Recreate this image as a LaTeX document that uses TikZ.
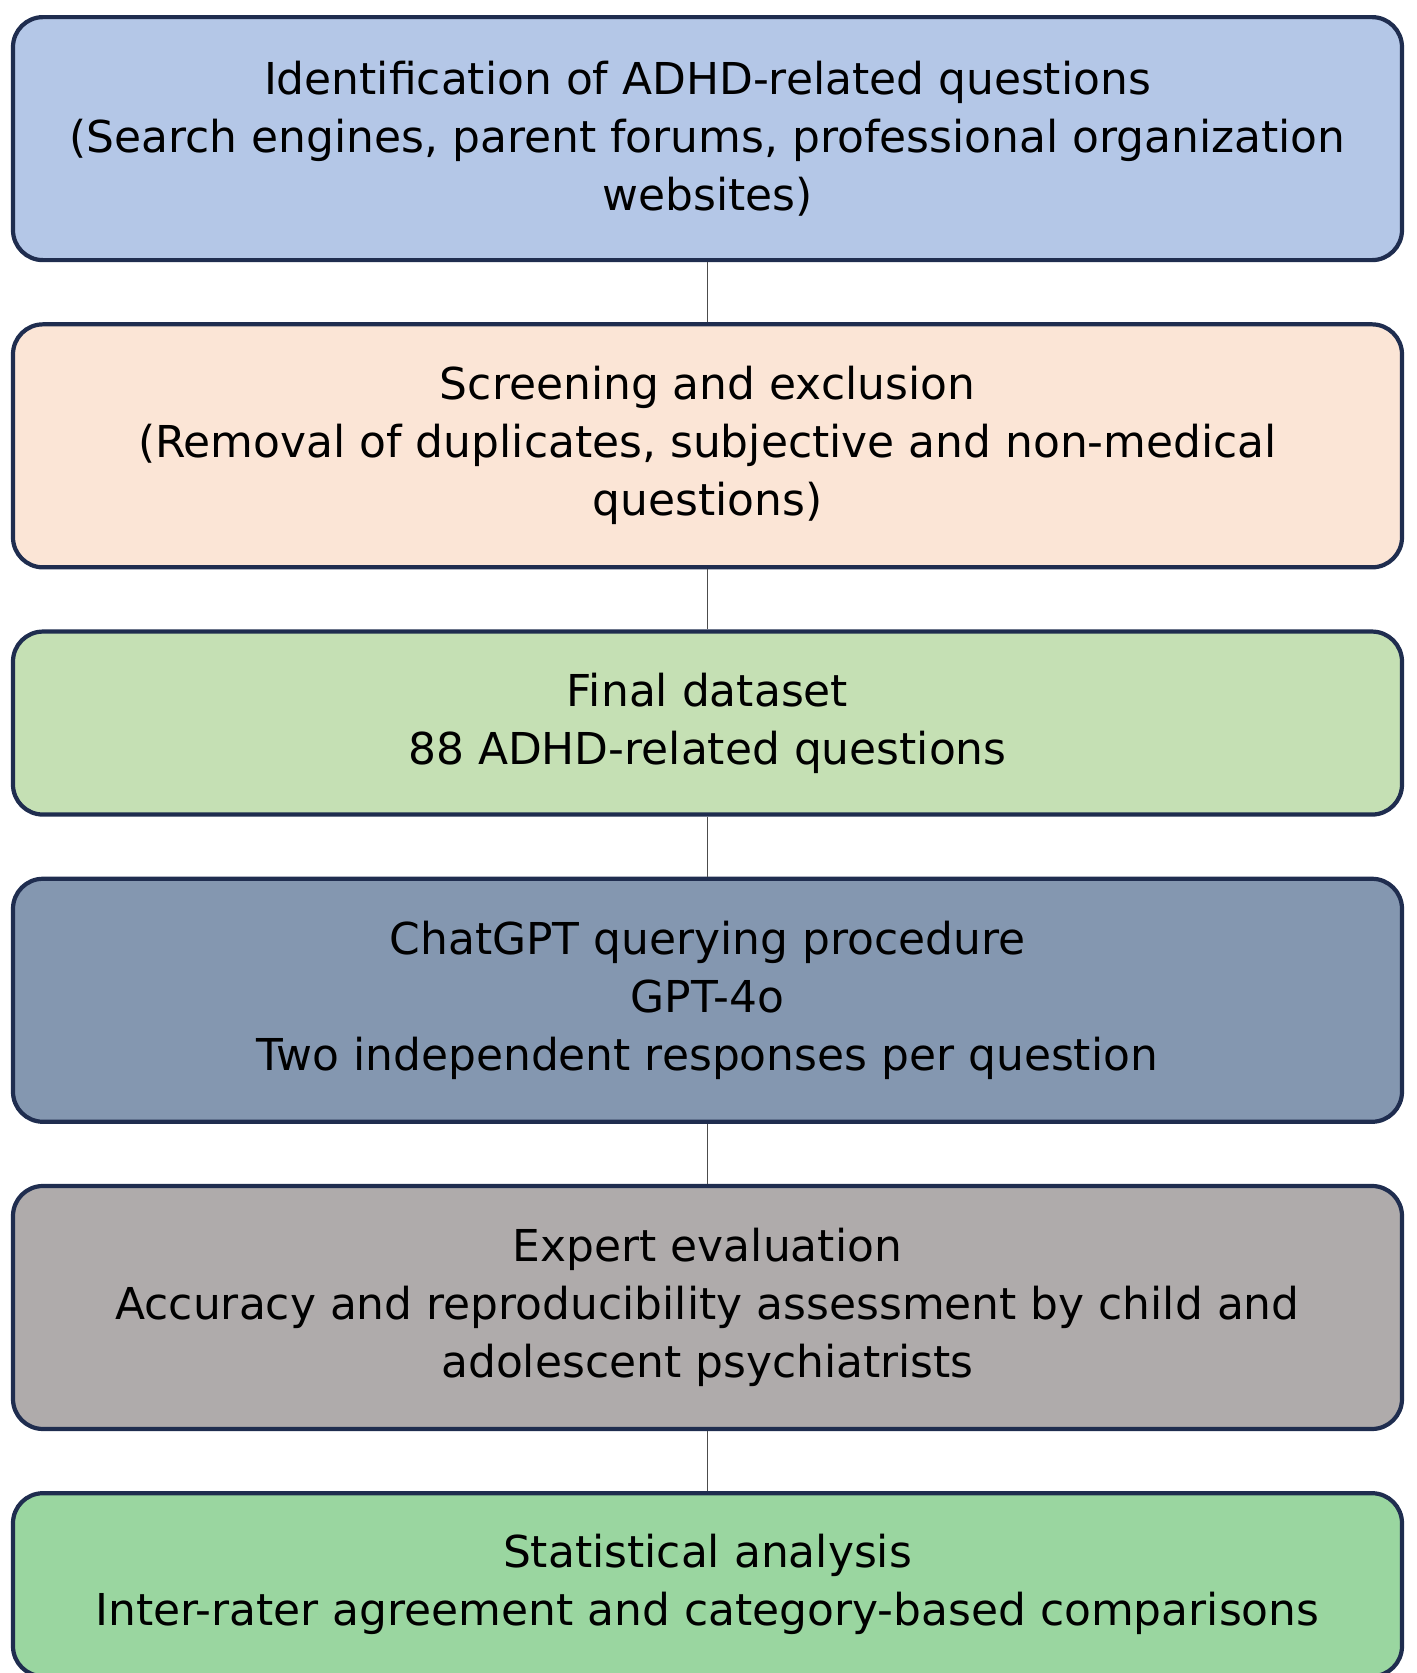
\documentclass[tikz,border=0pt]{standalone}
\usepackage{fontspec}
\setmainfont{DejaVu Sans}
\usetikzlibrary{positioning}
\definecolor{stepblue}{HTML}{B4C7E7}
\definecolor{steppeach}{HTML}{FBE5D6}
\definecolor{steplime}{HTML}{C5E0B4}
\definecolor{stepslate}{HTML}{8497B0}
\definecolor{stepgray}{HTML}{AFABAB}
\definecolor{stepgreen}{HTML}{9AD6A0}
\definecolor{rim}{HTML}{1F2D4F}
\tikzset{
  stage/.style={rectangle, rounded corners=3mm, draw=rim, line width=1.2pt, minimum width=138.9mm, align=center, font=\fontsize{12.5}{16.5}\selectfont},
  tall/.style={stage, minimum height=24.3mm},
  short/.style={stage, minimum height=18.3mm},
  link/.style={draw=black!70, line width=0.5pt}
}
\begin{document}
\begin{tikzpicture}[node distance=6mm]
\useasboundingbox (0,0) rectangle (141.7mm,-167.3mm);

\node (ident) [tall, fill=stepblue, below=1.5mm of {(70.75mm,0)}, anchor=north] {Identification of ADHD-related questions\\(Search engines, parent forums, professional organization\\websites)};
\node (screen) [tall, fill=steppeach, below=of ident] {Screening and exclusion\\(Removal of duplicates, subjective and non-medical\\questions)};
\node (final) [short, fill=steplime, below=of screen] {Final dataset\\88 ADHD-related questions};
\node (query) [tall, fill=stepslate, below=of final] {ChatGPT querying procedure\\GPT-4o\\Two independent responses per question};
\node (expert) [tall, fill=stepgray, below=of query] {Expert evaluation\\Accuracy and reproducibility assessment by child and\\adolescent psychiatrists};
\node (stats) [short, fill=stepgreen, below=of expert] {Statistical analysis\\Inter-rater agreement and category-based comparisons};

\draw [link] (ident) -- (screen);
\draw [link] (screen) -- (final);
\draw [link] (final) -- (query);
\draw [link] (query) -- (expert);
\draw [link] (expert) -- (stats);

\end{tikzpicture}
\end{document}
